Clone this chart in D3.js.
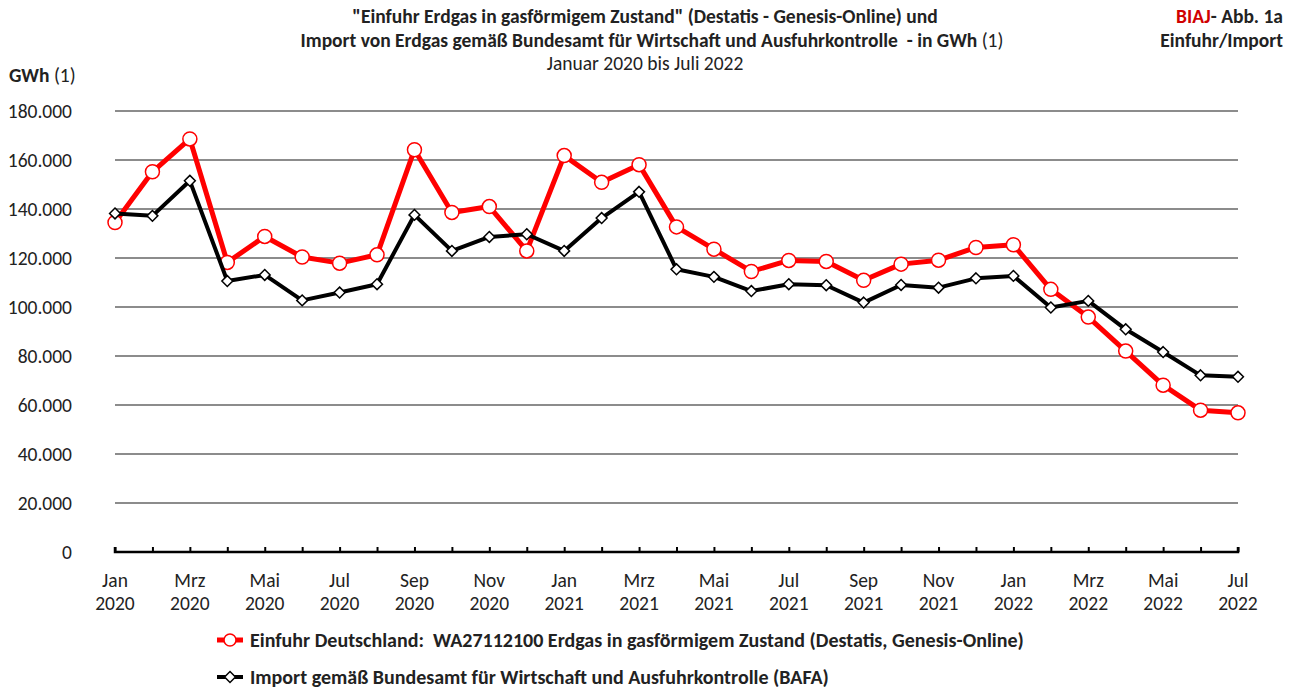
<!DOCTYPE html>
<html>
<head>
<meta charset="utf-8">
<script src="https://cdn.jsdelivr.net/npm/d3@7"></script>
<style>
  body { margin: 0; background: #fff; }
  svg { font-family: Carlito, Calibri, Lato, sans-serif; }
  text { white-space: pre; }
</style>
</head>
<body>
<svg id="chart" width="1296" height="689"></svg>
<script>
const months = ['Jan', 'Feb', 'Mrz', 'Apr', 'Mai', 'Jun', 'Jul', 'Aug', 'Sep', 'Okt', 'Nov', 'Dez'];
const periods = [];
for (const year of [2020, 2021, 2022]) {
    for (let m = 0; m < 12; m++) {
        if (year === 2022 && m > 6) break;
        periods.push({ month: months[m], year: year });
    }
}

// Einfuhr Deutschland (Destatis), GWh
const einfuhr = [134500, 155200, 168600, 118200, 128800, 120400, 117900, 121300, 164200, 138600, 141000, 122900,
    161800, 150900, 158100, 132700, 123600, 114500, 119000, 118600, 110900, 117500, 119100, 124300, 125400,
    107200, 95900, 82000, 68100, 57900, 56800];
// Import BAFA, GWh
const bafa = [138200, 137200, 151500, 110600, 113100, 102700, 105900, 109300, 137600, 122900, 128600, 129700,
    122900, 136300, 147000, 115400, 112300, 106500, 109300, 108900, 101800, 109000, 107900, 111700, 112700,
    99800, 102500, 90900, 81600, 72100, 71500];

const yTicks = d3.range(0, 180001, 20000);
const legendLabels = [
    'Einfuhr Deutschland:  WA27112100 Erdgas in gasförmigem Zustand (Destatis, Genesis-Online)',
    'Import gemäß Bundesamt für Wirtschaft und Ausfuhrkontrolle (BAFA)'
];

const fs = 19.5;
const svg = d3.select('#chart');
const x = d3.scaleLinear().domain([0, periods.length - 1]).range([115, 1238]);
const y = d3.scaleLinear().domain([0, 180000]).range([552, 111]);
const fmt = d => d === 0 ? '0' : d3.format(',')(d).replace(/,/g, '.');

// titles
const title = svg.append('g').attr('text-anchor', 'middle').attr('font-size', fs).attr('fill', '#222');
title.append('text').attr('x', 645).attr('y', 23).attr('font-weight', 'bold')
    .text('"Einfuhr Erdgas in gasförmigem Zustand" (Destatis - Genesis-Online) und');
const t2 = title.append('text').attr('x', 652).attr('y', 47).attr('font-weight', 'bold');
t2.append('tspan').text('Import von Erdgas gemäß Bundesamt für Wirtschaft und Ausfuhrkontrolle  - in GWh ');
t2.append('tspan').attr('font-weight', 'normal').text('(1)');
title.append('text').attr('x', 645).attr('y', 70).text('Januar 2020 bis Juli 2022');

const corner = svg.append('g').attr('text-anchor', 'end').attr('font-size', fs).attr('font-weight', 'bold').attr('fill', '#222');
const c1 = corner.append('text').attr('x', 1283).attr('y', 23);
c1.append('tspan').attr('fill', '#d00000').text('BIAJ');
c1.append('tspan').text('- Abb. 1a');
corner.append('text').attr('x', 1283).attr('y', 47).text('Einfuhr/Import');

const unit = svg.append('text').attr('x', 9).attr('y', 82).attr('font-size', fs).attr('fill', '#222');
unit.append('tspan').attr('font-weight', 'bold').text('GWh');
unit.append('tspan').text(' (1)');

// y grid + labels
svg.append('g').selectAll('line').data(yTicks.filter(d => d > 0)).join('line')
    .attr('x1', 115).attr('x2', 1238)
    .attr('y1', d => y(d)).attr('y2', d => y(d))
    .attr('stroke', '#8c8c8c').attr('stroke-width', 2);
svg.append('g').selectAll('text').data(yTicks).join('text')
    .attr('x', 72).attr('y', d => y(d) + 7)
    .attr('text-anchor', 'end').attr('font-size', fs).attr('fill', '#222')
    .text(fmt);

// x axis
const xAxis = d3.axisBottom(x).tickValues(d3.range(periods.length)).tickSize(-5).tickFormat('');
const xg = svg.append('g').attr('transform', 'translate(0,552)').call(xAxis);
xg.select('.domain').attr('d', 'M115,-5V0H1238V-5').attr('stroke', '#000').attr('stroke-width', 2.5).attr('fill', 'none');
xg.selectAll('.tick line').attr('stroke', '#000').attr('stroke-width', 2);

const xl = svg.append('g').attr('text-anchor', 'middle').attr('font-size', fs).attr('fill', '#222');
periods.forEach((p, i) => {
    if (i % 2 !== 0) return;
    xl.append('text').attr('x', x(i)).attr('y', 587).text(p.month);
    xl.append('text').attr('x', x(i)).attr('y', 610).text(p.year);
});

// series
const line = d3.line().x((d, i) => x(i)).y(d => y(d));
const diamond = d3.symbol().type(d3.symbolDiamond2).size(75);

svg.append('path').datum(einfuhr).attr('d', line)
    .attr('fill', 'none').attr('stroke', '#ff0000').attr('stroke-width', 5).attr('stroke-linejoin', 'round');
svg.append('g').selectAll('circle').data(einfuhr).join('circle')
    .attr('cx', (d, i) => x(i)).attr('cy', d => y(d)).attr('r', 7)
    .attr('fill', '#fff').attr('stroke', '#ff0000').attr('stroke-width', 1.5);

svg.append('path').datum(bafa).attr('d', line)
    .attr('fill', 'none').attr('stroke', '#000').attr('stroke-width', 4).attr('stroke-linejoin', 'round');
svg.append('g').selectAll('path').data(bafa).join('path')
    .attr('d', diamond)
    .attr('transform', (d, i) => `translate(${x(i)},${y(d)})`)
    .attr('fill', '#fff').attr('stroke', '#000').attr('stroke-width', 1.5);

// legend
const legend = svg.append('g').attr('font-size', 20).attr('fill', '#222').attr('font-weight', 'bold');
const lg1 = legend.append('g').attr('transform', 'translate(217,640)');
lg1.append('line').attr('x1', 0).attr('x2', 26).attr('stroke', '#ff0000').attr('stroke-width', 5);
lg1.append('circle').attr('cx', 13).attr('r', 6).attr('fill', '#fff').attr('stroke', '#ff0000').attr('stroke-width', 1.5);
lg1.append('text').attr('x', 33).attr('y', 7).text(legendLabels[0]);
const lg2 = legend.append('g').attr('transform', 'translate(217,677)');
lg2.append('line').attr('x1', 0).attr('x2', 26).attr('stroke', '#000').attr('stroke-width', 4);
lg2.append('path').attr('d', diamond).attr('transform', 'translate(13,0)').attr('fill', '#fff').attr('stroke', '#000').attr('stroke-width', 1.5);
lg2.append('text').attr('x', 33).attr('y', 7).text(legendLabels[1]);
</script>
</body>
</html>
